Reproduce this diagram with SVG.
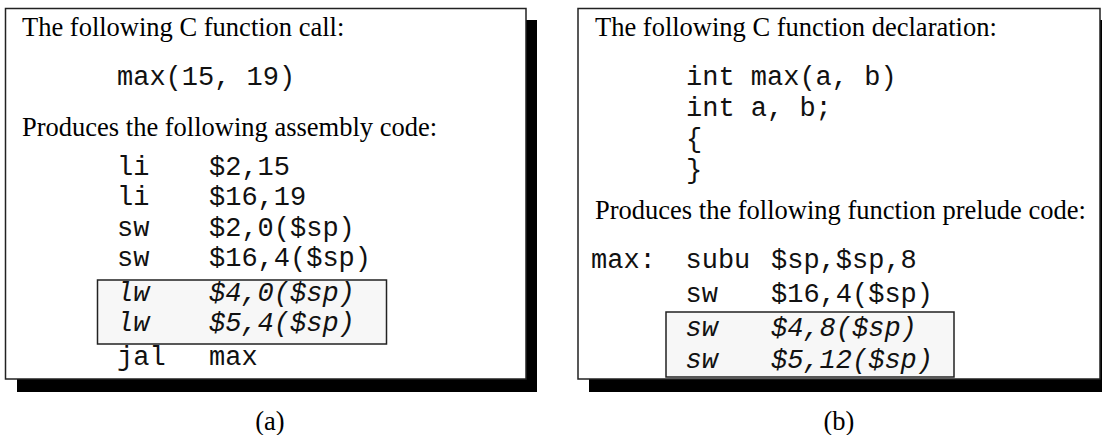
<svg xmlns="http://www.w3.org/2000/svg" width="1102" height="435" viewBox="0 0 1102 435">
<style>
.shadow{fill:#000}
.box{fill:#fff;stroke:#222;stroke-width:1.5}
.hl{fill:#f7f7f7;stroke:#222;stroke-width:1.5}
.t{font-family:"Liberation Serif","Times New Roman",serif;font-size:26.5px;fill:#000}
.c{font-family:"Liberation Mono","Courier New",monospace;font-size:27px;fill:#111}
.ci{font-family:"Liberation Mono","Courier New",monospace;font-size:27px;font-style:italic;fill:#111}
.lbl{font-family:"Liberation Serif","Times New Roman",serif;font-size:26.5px;fill:#000;text-anchor:middle}
</style>
<rect width="1102" height="435" fill="#fff"/>
<g id="panel-a">
  <rect class="shadow" x="17" y="20" width="520" height="372"/>
  <rect class="box" x="5.5" y="8.5" width="520.5" height="370.5"/>
  <text class="t" x="22" y="36">The following C function call:</text>
  <text class="c" x="117" y="85">max(15, 19)</text>
  <text class="t" x="22" y="136">Produces the following assembly code:</text>
  <g id="code-a">
    <text class="c" x="117" y="175">li</text><text class="c" x="209" y="175">$2,15</text>
    <text class="c" x="117" y="205">li</text><text class="c" x="209" y="205">$16,19</text>
    <text class="c" x="117" y="236">sw</text><text class="c" x="209" y="236">$2,0($sp)</text>
    <text class="c" x="117" y="266">sw</text><text class="c" x="209" y="266">$16,4($sp)</text>
  </g>
  <g id="highlight-a">
    <rect class="hl" x="97.5" y="280" width="289" height="64"/>
    <text class="ci" x="117" y="301">lw</text><text class="ci" x="209" y="301">$4,0($sp)</text>
    <text class="ci" x="117" y="331">lw</text><text class="ci" x="209" y="331">$5,4($sp)</text>
  </g>
  <text class="c" x="117" y="365">jal</text><text class="c" x="209" y="365">max</text>
  <text class="lbl" x="270" y="430">(a)</text>
</g>
<g id="panel-b">
  <rect class="shadow" x="589" y="20" width="520" height="372"/>
  <rect class="box" x="578" y="8.5" width="522" height="370.5"/>
  <text class="t" x="595" y="36">The following C function declaration:</text>
  <g id="decl-b">
    <text class="c" x="686" y="85">int max(a, b)</text>
    <text class="c" x="686" y="116">int a, b;</text>
    <text class="c" x="686" y="147">{</text>
    <text class="c" x="686" y="178">}</text>
  </g>
  <text class="t" x="595" y="219">Produces the following function prelude code:</text>
  <g id="code-b">
    <text class="c" x="591" y="268">max:</text><text class="c" x="685.5" y="268">subu</text><text class="c" x="771" y="268">$sp,$sp,8</text>
    <text class="c" x="685.5" y="302">sw</text><text class="c" x="771" y="302">$16,4($sp)</text>
  </g>
  <g id="highlight-b">
    <rect class="hl" x="666" y="312" width="288" height="65"/>
    <text class="ci" x="685.5" y="336">sw</text><text class="ci" x="771" y="336">$4,8($sp)</text>
    <text class="ci" x="685.5" y="368">sw</text><text class="ci" x="771" y="368">$5,12($sp)</text>
  </g>
  <text class="lbl" x="839" y="430">(b)</text>
</g>
</svg>
